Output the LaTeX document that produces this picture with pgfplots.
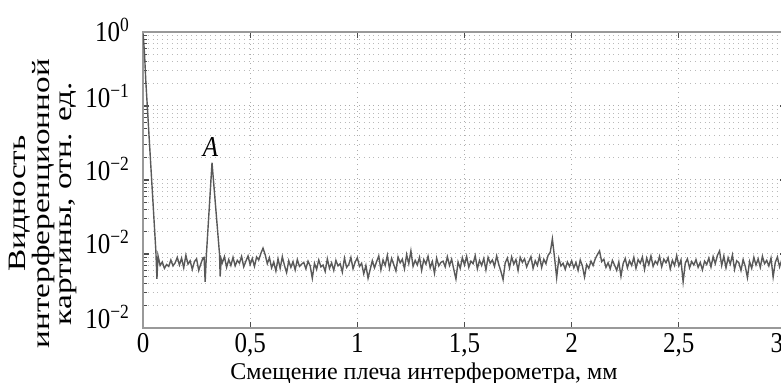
\documentclass[border=0pt]{standalone}
\usepackage{fontspec}
\setmainfont{Liberation Serif}
\usepackage{pgfplots}
\pgfplotsset{compat=1.18}
\newcommand{\vs}[1]{\scalebox{1}[1.15]{#1}}
\newcommand{\ls}[1]{\scalebox{1.33}[1]{#1}}
\begin{document}
\begin{tikzpicture}
\useasboundingbox (0,0) rectangle (390.5pt,191.5pt);
\begin{axis}[
  at={(71.5pt,27.5pt)}, anchor=south west,
  width=321.5pt, height=148pt, scale only axis,
  ymode=log, xmin=0, xmax=3, ymin=1e-4, ymax=1,
  /pgf/number format/assume math mode=true,
  axis line style={gray!80, line width=0.8pt},
  xtick={0,0.5,1,1.5,2,2.5,3},
  xticklabels={\vs{0},\vs{0,5},\vs{1},\vs{1,5},\vs{2},\vs{2,5},\makebox[0pt][r]{\vs{3}\hspace{1.5pt}}},
  ytick={1,0.1,0.01,0.001,0.0001},
  minor ytick={2e-4,3e-4,4e-4,5e-4,6e-4,7e-4,8e-4,9e-4,2e-3,3e-3,4e-3,5e-3,6e-3,7e-3,8e-3,9e-3,0.02,0.03,0.04,0.05,0.06,0.07,0.08,0.09,0.2,0.3,0.4,0.5,0.6,0.7,0.8,0.9},
  minor xtick={},
  yticklabels={\raisebox{2pt}{\vs{10\textsuperscript{0}}},\raisebox{10pt}{\vs{10\textsuperscript{−1}}},\raisebox{11.5pt}{\vs{10\textsuperscript{−2}}},\raisebox{12pt}{\vs{10\textsuperscript{−2}}},\raisebox{11.5pt}{\vs{10\textsuperscript{−2}}}},
  grid=both,
  major grid style={dotted, gray!65, line width=0.5pt},
  minor grid style={dotted, gray!55, line width=0.5pt},
  tick align=inside,
  major tick length=3pt, minor tick length=2pt,
  tick style={gray!60!black, line width=0.6pt},
  ticklabel style={font=\fontsize{12.5}{12.5}\selectfont},
  yticklabel style={xshift=-3pt},
  xticklabel style={yshift=1pt},
  xlabel={Смещение плеча интерферометра, мм},
  xlabel style={at={(axis description cs:0.437,-0.156)}, anchor=center, font=\fontsize{12}{12}\selectfont},
  ylabel={\ls{Видность}\\\ls{интерференционной}\\\ls{картины, отн. ед.}},
  ylabel style={at={(axis description cs:-0.1555,0.42)}, anchor=center, align=center, font=\fontsize{12.5}{11}\selectfont},
]
\addplot[black!65, line width=0.7pt] coordinates {
(0,0.95) (0.004,0.7) (0.008,0.45) (0.013,0.22) (0.06,1.1e-3) (0.065,4.6e-4)
(0.07,9.5e-4) (0.08,7.0e-4) (0.09,7.8e-4) (0.10,6.4e-4) (0.11,7.2e-4) (0.12,6.8e-4) (0.13,8.3e-4) (0.14,6.9e-4) (0.15,7.6e-4) (0.16,9.0e-4)
(0.17,7.1e-4) (0.18,8.8e-4) (0.19,6.5e-4) (0.20,9.6e-4) (0.21,7.3e-4) (0.22,8.1e-4) (0.23,6.2e-4) (0.24,7.9e-4) (0.25,8.6e-4) (0.26,6.0e-4)
(0.27,7.4e-4) (0.28,8.9e-4) (0.285,9.0e-4) (0.29,4.2e-4) (0.296,1.0e-3) (0.322,1.71e-2) (0.357,1.0e-3) (0.36,5.0e-4) (0.365,8.5e-4)
(0.37,7.6e-4) (0.38,9.2e-4) (0.39,6.6e-4) (0.40,8.4e-4) (0.41,7.0e-4) (0.42,9.0e-4) (0.43,6.9e-4) (0.44,8.2e-4) (0.45,7.5e-4) (0.46,9.3e-4)
(0.47,6.7e-4) (0.48,8.0e-4) (0.49,9.4e-4) (0.50,7.2e-4) (0.51,8.7e-4) (0.52,6.8e-4) (0.53,9.1e-4) (0.54,8.3e-4) (0.55,10.2e-4) (0.56,12.0e-4)
(0.57,9.8e-4) (0.58,7.4e-4) (0.59,8.9e-4) (0.60,6.5e-4) (0.61,7.8e-4) (0.62,5.9e-4) (0.63,8.6e-4) (0.64,6.4e-4) (0.65,9.2e-4) (0.66,7.0e-4)
(0.67,5.6e-4) (0.68,8.1e-4) (0.69,6.6e-4) (0.70,7.9e-4) (0.71,6.1e-4) (0.72,8.4e-4) (0.73,6.8e-4) (0.74,7.3e-4) (0.75,7.7e-4) (0.76,6.3e-4)
(0.77,8.0e-4) (0.78,6.9e-4) (0.79,4.7e-4) (0.80,7.5e-4) (0.81,6.2e-4) (0.82,8.3e-4) (0.83,6.7e-4) (0.84,7.1e-4) (0.85,5.8e-4) (0.86,8.6e-4)
(0.87,6.4e-4) (0.88,7.6e-4) (0.89,6.0e-4) (0.90,8.2e-4) (0.91,6.9e-4) (0.92,7.4e-4) (0.93,5.7e-4) (0.94,8.8e-4) (0.95,6.6e-4) (0.96,7.2e-4)
(0.97,9.0e-4) (0.98,6.3e-4) (0.99,7.8e-4) (1.00,8.9e-4) (1.01,6.8e-4) (1.02,7.5e-4) (1.03,5.4e-4) (1.04,7.0e-4) (1.05,4.7e-4) (1.06,6.2e-4)
(1.07,8.1e-4) (1.08,6.5e-4) (1.09,7.9e-4) (1.10,9.4e-4) (1.11,6.1e-4) (1.12,8.3e-4) (1.13,7.0e-4) (1.14,9.6e-4) (1.15,6.4e-4) (1.16,8.7e-4)
(1.17,7.2e-4) (1.18,5.9e-4) (1.19,9.1e-4) (1.20,7.6e-4) (1.21,8.5e-4) (1.22,6.3e-4) (1.23,9.8e-4) (1.24,7.4e-4) (1.25,11.0e-4) (1.26,6.8e-4)
(1.27,8.2e-4) (1.28,7.1e-4) (1.29,9.0e-4) (1.30,6.0e-4) (1.31,8.4e-4) (1.32,7.3e-4) (1.33,9.3e-4) (1.34,6.5e-4) (1.35,7.9e-4) (1.36,5.5e-4)
(1.37,8.8e-4) (1.38,6.9e-4) (1.39,7.7e-4) (1.40,8.0e-4) (1.41,6.7e-4) (1.42,9.2e-4) (1.43,7.0e-4) (1.44,8.5e-4) (1.45,6.2e-4) (1.46,4.6e-4)
(1.47,7.8e-4) (1.48,6.4e-4) (1.49,8.9e-4) (1.50,7.1e-4) (1.51,9.3e-4) (1.52,6.6e-4) (1.53,8.0e-4) (1.54,7.4e-4) (1.55,9.5e-4) (1.56,6.3e-4)
(1.57,8.2e-4) (1.58,7.0e-4) (1.59,8.7e-4) (1.60,6.1e-4) (1.61,9.0e-4) (1.62,7.5e-4) (1.63,8.3e-4) (1.64,6.8e-4) (1.65,9.4e-4) (1.66,7.2e-4)
(1.67,5.8e-4) (1.68,4.5e-4) (1.69,7.6e-4) (1.70,8.8e-4) (1.71,6.5e-4) (1.72,9.1e-4) (1.73,7.3e-4) (1.74,8.4e-4) (1.75,6.0e-4) (1.76,9.0e-4)
(1.77,7.7e-4) (1.78,8.6e-4) (1.79,6.7e-4) (1.80,7.9e-4) (1.81,9.2e-4) (1.82,6.4e-4) (1.83,8.1e-4) (1.84,7.0e-4) (1.85,9.3e-4) (1.86,6.6e-4)
(1.87,8.5e-4) (1.88,7.4e-4) (1.89,9.6e-4) (1.90,10.5e-4) (1.91,16.0e-4) (1.92,9.0e-4) (1.93,4.8e-4) (1.94,8.7e-4) (1.95,6.9e-4) (1.96,7.5e-4)
(1.97,6.2e-4) (1.98,7.8e-4) (1.99,6.8e-4) (2.00,8.1e-4) (2.01,6.5e-4) (2.02,7.7e-4) (2.03,6.0e-4) (2.04,8.3e-4) (2.05,6.9e-4) (2.06,4.9e-4)
(2.07,7.2e-4) (2.08,6.4e-4) (2.09,8.0e-4) (2.10,7.0e-4) (2.11,8.6e-4) (2.12,9.8e-4) (2.13,11.0e-4) (2.14,7.9e-4) (2.15,8.5e-4) (2.16,6.6e-4)
(2.17,7.6e-4) (2.18,6.3e-4) (2.19,8.2e-4) (2.20,7.1e-4) (2.21,6.0e-4) (2.22,7.8e-4) (2.23,5.0e-4) (2.24,7.4e-4) (2.25,8.7e-4) (2.26,6.5e-4)
(2.27,8.1e-4) (2.28,7.0e-4) (2.29,9.0e-4) (2.30,6.4e-4) (2.31,8.4e-4) (2.32,7.5e-4) (2.33,9.1e-4) (2.34,6.2e-4) (2.35,8.8e-4) (2.36,7.2e-4)
(2.37,9.4e-4) (2.38,6.8e-4) (2.39,8.0e-4) (2.40,7.3e-4) (2.41,9.3e-4) (2.42,6.7e-4) (2.43,8.5e-4) (2.44,7.6e-4) (2.45,8.9e-4) (2.46,6.3e-4)
(2.47,8.2e-4) (2.48,7.0e-4) (2.49,9.5e-4) (2.50,6.9e-4) (2.51,8.3e-4) (2.52,4.2e-4) (2.53,7.5e-4) (2.54,8.6e-4) (2.55,6.5e-4) (2.56,7.9e-4)
(2.57,7.1e-4) (2.58,8.4e-4) (2.59,6.6e-4) (2.60,7.7e-4) (2.61,6.1e-4) (2.62,8.0e-4) (2.63,7.2e-4) (2.64,8.8e-4) (2.65,6.7e-4) (2.66,9.2e-4)
(2.67,7.4e-4) (2.68,9.6e-4) (2.69,11.0e-4) (2.70,7.0e-4) (2.71,9.4e-4) (2.72,6.5e-4) (2.73,8.9e-4) (2.74,7.3e-4) (2.75,9.7e-4) (2.76,6.2e-4)
(2.77,8.1e-4) (2.78,7.6e-4) (2.79,6.0e-4) (2.80,8.4e-4) (2.81,6.8e-4) (2.82,4.8e-4) (2.83,7.9e-4) (2.84,6.4e-4) (2.85,9.0e-4) (2.86,7.1e-4)
(2.87,8.6e-4) (2.88,6.6e-4) (2.89,9.3e-4) (2.90,7.4e-4) (2.91,8.2e-4) (2.92,6.9e-4) (2.93,8.8e-4) (2.94,4.9e-4) (2.95,7.7e-4) (2.96,9.1e-4)
(2.97,6.7e-4) (2.98,8.3e-4) (2.99,7.2e-4) (3.00,8.0e-4)
};
\node[font=\fontsize{12.5}{12.5}\selectfont\itshape] at (axis cs:0.315,0.028) {\vs{A}};
\end{axis}
\end{tikzpicture}
\end{document}
